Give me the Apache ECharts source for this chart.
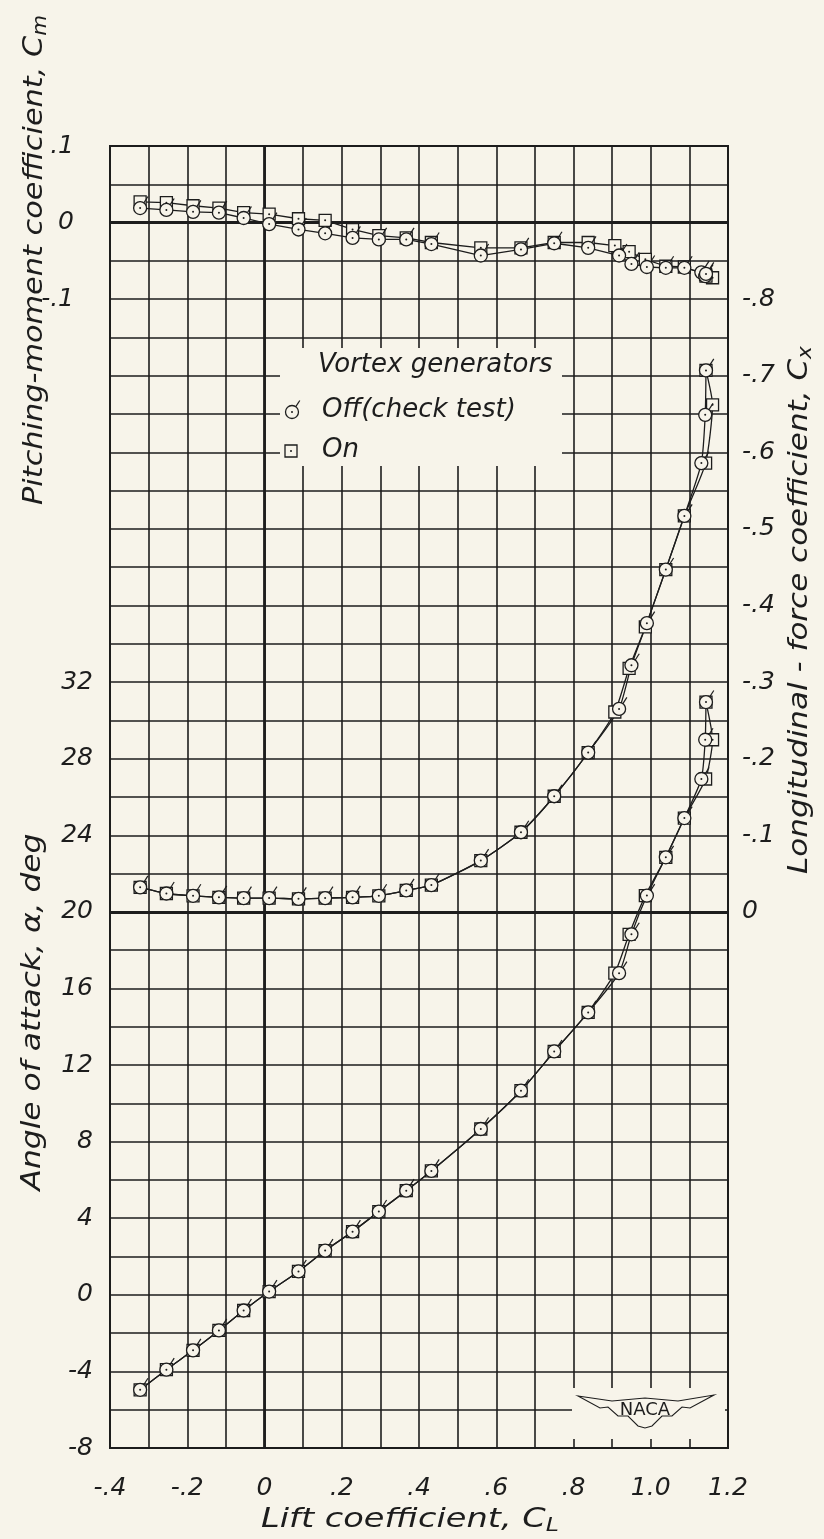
<!DOCTYPE html>
<html>
<head>
<meta charset="utf-8">
<script src="https://cdn.jsdelivr.net/npm/echarts@6/dist/echarts.min.js"></script>
<style>
html,body{margin:0;padding:0;background:#f7f4ea;}
#c{width:824px;height:1539px;}
</style>
</head>
<body>
<div id="c"></div>
<script>
// ---------------- data ----------------
// Lift coefficient for each test point
const CL_off = [-0.322, -0.254, -0.185, -0.118, -0.054, 0.012, 0.088, 0.157, 0.228, 0.296, 0.367, 0.432, 0.560, 0.664, 0.750, 0.838, 0.918, 0.950, 0.990, 1.039, 1.087, 1.131, 1.141, 1.143];
const CL_on  = [-0.322, -0.254, -0.185, -0.118, -0.054, 0.012, 0.088, 0.157, 0.228, 0.296, 0.367, 0.432, 0.560, 0.664, 0.750, 0.838, 0.907, 0.944, 0.986, 1.039, 1.087, 1.142, 1.160, 1.143];
// Angle of attack, deg
const alpha_off = [-4.96, -3.91, -2.90, -1.86, -0.82, 0.17, 1.22, 2.31, 3.30, 4.35, 5.44, 6.47, 8.66, 10.66, 12.71, 14.75, 16.80, 18.83, 20.85, 22.85, 24.90, 26.94, 28.99, 30.96];
const alpha_on  = [-4.96, -3.91, -2.90, -1.86, -0.82, 0.17, 1.22, 2.31, 3.30, 4.35, 5.44, 6.47, 8.66, 10.66, 12.71, 14.75, 16.80, 18.83, 20.85, 22.85, 24.90, 26.94, 28.99, 30.96];
// Longitudinal-force coefficient
const cx_off = [-0.032, -0.024, -0.021, -0.019, -0.018, -0.018, -0.017, -0.018, -0.019, -0.021, -0.028, -0.035, -0.067, -0.104, -0.151, -0.208, -0.265, -0.322, -0.377, -0.447, -0.517, -0.586, -0.649, -0.707];
const cx_on  = [-0.032, -0.024, -0.021, -0.019, -0.018, -0.018, -0.017, -0.018, -0.019, -0.021, -0.028, -0.035, -0.067, -0.104, -0.151, -0.208, -0.261, -0.318, -0.372, -0.447, -0.517, -0.586, -0.662, -0.707];
// Pitching-moment coefficient
const cm_off = [0.019, 0.0165, 0.014, 0.013, 0.006, -0.002, -0.009, -0.014, -0.020, -0.022, -0.022, -0.028, -0.043, -0.035, -0.027, -0.033, -0.043, -0.054, -0.058, -0.059, -0.059, -0.065, -0.070, -0.067];
const cm_on  = [0.027, 0.026, 0.022, 0.019, 0.013, 0.011, 0.005, 0.003, -0.009, -0.017, -0.020, -0.026, -0.033, -0.033, -0.026, -0.026, -0.030, -0.038, -0.048, -0.057, -0.058, -0.068, -0.072, -0.070];

// tick labels
const xTickLabels = {'-4':'-.4','-2':'-.2','0':'0','2':'.2','4':'.4','6':'.6','8':'.8','10':'1.0','12':'1.2'};
const cmTickLabels = {'1':'.1','0':'0','-1':'-.1'};
const cxTickLabels = {'0':'0','-1':'-.1','-2':'-.2','-3':'-.3','-4':'-.4','-5':'-.5','-6':'-.6','-7':'-.7','-8':'-.8'};

// ---------------- styling ----------------
const INK = '#1d1d1d', BG = '#f7f4ea', FONT = 'DejaVu Sans';
const LBL = {fontSize: 25, fontStyle: 'italic', fontFamily: FONT, color: INK};

function pairs(xs, ys){ return xs.map((x, i) => [x, ys[i]]); }

function circleShapes(x, y, z){
  return [
    {type:'circle', z, shape:{cx:x, cy:y, r:6.5}, style:{fill:BG, stroke:INK, lineWidth:1.3}},
    {type:'line', z, shape:{x1:x+3.8, y1:y-5.3, x2:x+7.8, y2:y-11.5}, style:{stroke:INK, lineWidth:1.2}},
    {type:'circle', z, shape:{cx:x, cy:y, r:1}, style:{fill:INK}}
  ];
}
function squareShapes(x, y, z){
  return [
    {type:'rect', z, shape:{x:x-6, y:y-6, width:12, height:12}, style:{fill:BG, stroke:INK, lineWidth:1.3}},
    {type:'circle', z, shape:{cx:x, cy:y, r:1}, style:{fill:INK}}
  ];
}
function renderCircle(params, api){
  const p = api.coord([api.value(0), api.value(1)]);
  return {type:'group', children: circleShapes(p[0], p[1])};
}
function renderSquare(params, api){
  const p = api.coord([api.value(0), api.value(1)]);
  return {type:'group', children: squareShapes(p[0], p[1])};
}

function lineSeries(data, yIdx, smooth){
  return {type:'line', xAxisIndex:0, yAxisIndex:yIdx, data, showSymbol:false, symbol:'none',
    smooth, lineStyle:{color:INK, width:1.3}, z:3, silent:true};
}
function markSeries(data, yIdx, kind){
  return {type:'custom', coordinateSystem:'cartesian2d', xAxisIndex:0, yAxisIndex:yIdx, data,
    encode:{x:0, y:1}, renderItem: kind === 'c' ? renderCircle : renderSquare,
    z: kind === 'c' ? 6 : 5, clip:false, silent:true};
}

// title helper (stretched along text direction to match hand lettering)
const mctx = document.createElement('canvas').getContext('2d');
function tw(s, size){ mctx.font = 'italic ' + size + 'px "' + FONT + '"'; return mctx.measureText(s).width; }
function title(main, sub, x, y, len, rot){
  const w = tw(main, 27) + (sub ? tw(sub, 19) : 0);
  return {type:'text', x, y, rotation:rot, scaleX: len / w, z:10, silent:true,
    style:{text: main + (sub ? '{s|' + sub + '}' : ''), fontSize:27, fontStyle:'italic', fontFamily:FONT,
      fill:INK, align:'center', verticalAlign:'middle',
      rich:{s:{fontSize:19, fontStyle:'italic', fontFamily:FONT, fill:INK, padding:[12,0,0,0]}}}};
}

const chart = echarts.init(document.getElementById('c'), null, {renderer:'canvas'});

const series = [
  lineSeries(pairs(CL_off, alpha_off), 0, 0.2),
  lineSeries(pairs(CL_on, alpha_on), 0, 0.2),
  lineSeries(pairs(CL_off, cx_off), 2, 0.2),
  lineSeries(pairs(CL_on, cx_on), 2, 0.2),
  lineSeries(pairs(CL_off, cm_off), 1, false),
  lineSeries(pairs(CL_on, cm_on), 1, false),
  markSeries(pairs(CL_on, alpha_on), 0, 's'),
  markSeries(pairs(CL_off, alpha_off), 0, 'c'),
  markSeries(pairs(CL_on, cx_on), 2, 's'),
  markSeries(pairs(CL_off, cx_off), 2, 'c'),
  markSeries(pairs(CL_on, cm_on), 1, 's'),
  markSeries(pairs(CL_off, cm_off), 1, 'c')
];
// bold reference lines (CL = 0, Cm = 0, Cx = 0)
series[0].markLine = {silent:true, symbol:['none','none'], label:{show:false},
  lineStyle:{color:INK, width:2.8, type:'solid'}, emphasis:{disabled:true},
  data:[{xAxis:0}, {yAxis:56}, {yAxis:20}]};

const option = {
  animation:false,
  backgroundColor:BG,
  grid:{left:110, right:96, top:146, bottom:91, show:true, borderColor:INK, borderWidth:2,
    backgroundColor:'transparent', containLabel:false, outerBoundsMode:'none'},
  xAxis:{type:'value', min:-0.4, max:1.2, interval:0.1,
    axisLine:{show:false, onZero:false}, axisTick:{show:false},
    splitLine:{show:true, lineStyle:{color:INK, width:1.6}},
    axisLabel:Object.assign({margin:28, formatter: v => xTickLabels[String(Math.round(v*10))] || ''}, LBL)},
  yAxis:[
    {type:'value', position:'left', min:-8, max:60, interval:2,
      axisLine:{show:false, onZero:false}, axisTick:{show:false},
      splitLine:{show:true, lineStyle:{color:INK, width:1.6}},
      axisLabel:Object.assign({margin:17, formatter: v => (Math.round(v) % 4 === 0 && v <= 32) ? String(Math.round(v)) : ''}, LBL)},
    {type:'value', position:'left', min:-1.6, max:0.1, interval:0.1,
      axisLine:{show:false, onZero:false}, axisTick:{show:false}, splitLine:{show:false},
      axisLabel:Object.assign({margin:36, formatter: v => cmTickLabels[String(Math.round(v*10))] || ''}, LBL)},
    {type:'value', position:'right', inverse:true, min:-1.0, max:0.7, interval:0.1,
      axisLine:{show:false, onZero:false}, axisTick:{show:false}, splitLine:{show:false},
      axisLabel:Object.assign({margin:14, formatter: v => cxTickLabels[String(Math.round(v*10))] || ''}, LBL)}
  ],
  series,
  graphic:[
    // legend box (gap in the grid)
    {type:'rect', shape:{x:280, y:348, width:282, height:118}, style:{fill:BG}, z:1, silent:true},
    {type:'text', x:318, y:365, z:10, style:{text:'Vortex generators', fontSize:26, fontStyle:'italic', fontFamily:FONT, fill:INK, align:'left', verticalAlign:'middle'}},
    {type:'text', x:322, y:410, z:10, style:{text:'Off(check test)', fontSize:26, fontStyle:'italic', fontFamily:FONT, fill:INK, align:'left', verticalAlign:'middle'}},
    {type:'text', x:322, y:450, z:10, style:{text:'On', fontSize:26, fontStyle:'italic', fontFamily:FONT, fill:INK, align:'left', verticalAlign:'middle'}}
  ].concat(circleShapes(292, 412, 10), squareShapes(291, 451, 10), [
    // NACA logo area
    {type:'rect', shape:{x:572, y:1388, width:153, height:51}, style:{fill:BG}, z:1, silent:true},
    {type:'polygon', z:10, silent:true, shape:{points:[[578,1396],[612,1401],[645,1398],[678,1401],[714,1395],[690,1408],[682,1407],[672,1416],[662,1416],[652,1426],[645,1428],[638,1426],[628,1416],[618,1416],[608,1407],[600,1408]]},
      style:{fill:'none', stroke:INK, lineWidth:1.1}},
    {type:'text', x:645, y:1410, z:11, style:{text:'NACA', fontSize:18, fontFamily:FONT, fill:INK, align:'center', verticalAlign:'middle'}},
    // axis titles
    title('Pitching-moment coefficient, C', 'm', 35, 260, 490, Math.PI/2),
    title('Angle of attack, α, deg', null, 33, 1012, 357, Math.PI/2),
    title('Longitudinal - force coefficient, C', 'x', 800, 610, 528, Math.PI/2),
    title('Lift coefficient, C', 'L', 410, 1520, 298, 0)
  ])
};
chart.setOption(option);
</script>
</body>
</html>
